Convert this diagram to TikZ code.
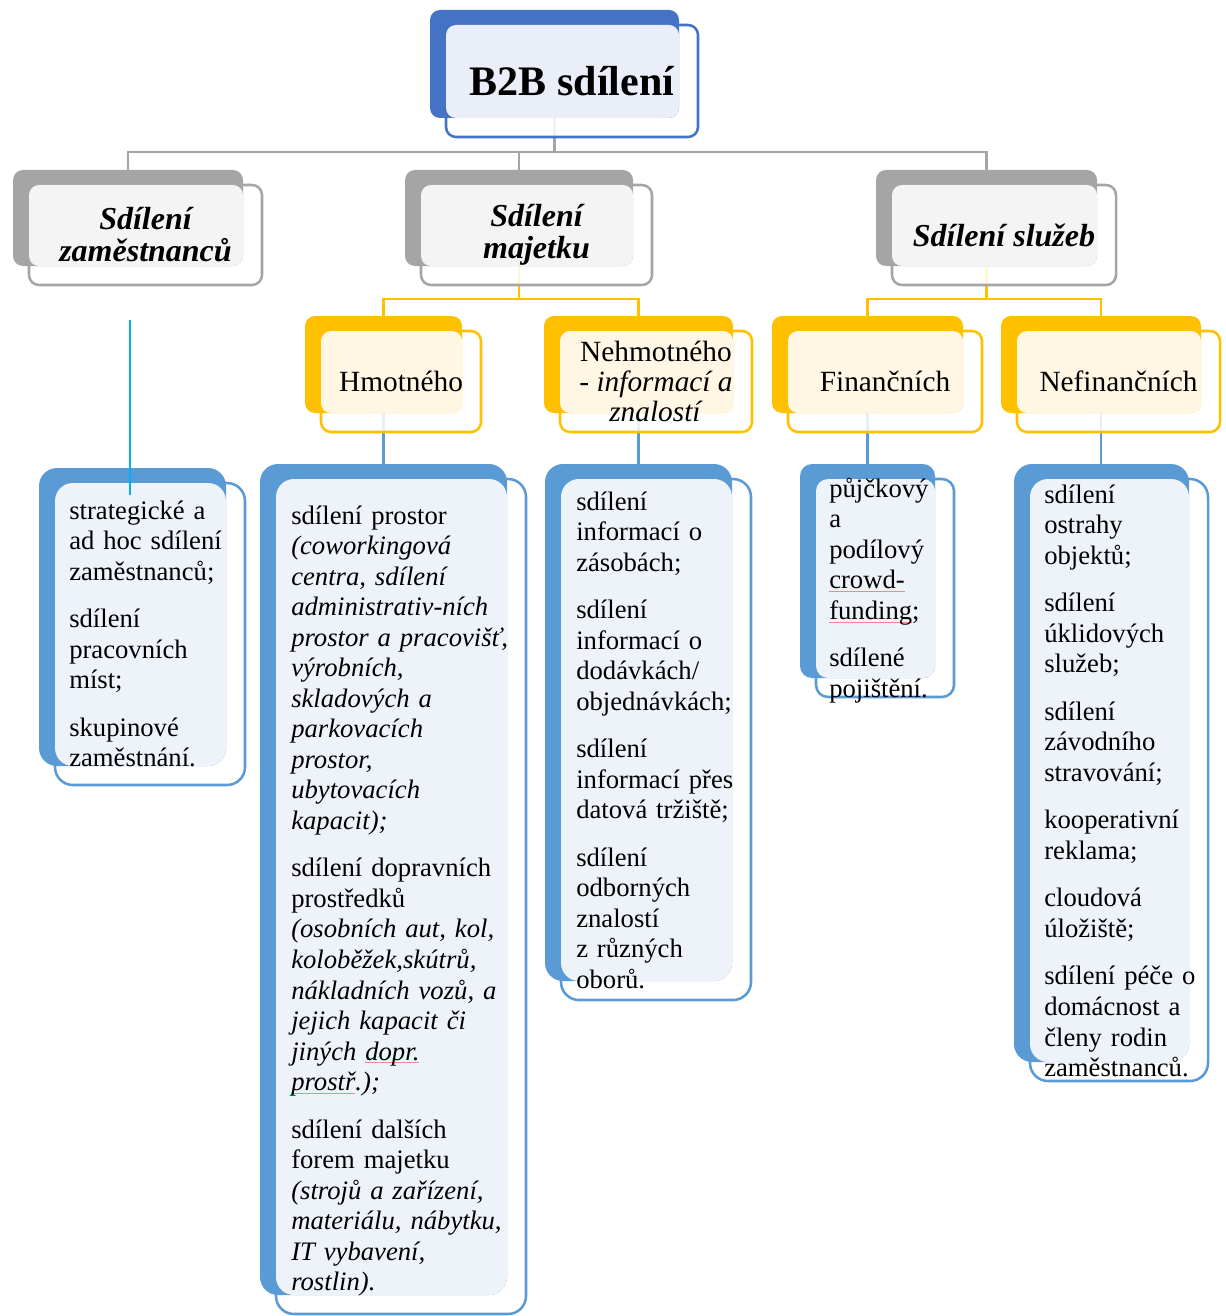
\documentclass[tikz,border=0pt]{standalone}
\usepackage{fontspec}
\setmainfont{Liberation Serif}
\usetikzlibrary{calc}
\definecolor{tblue}{HTML}{4472C4}
\definecolor{tbluelt}{HTML}{E9EEF8}
\definecolor{gback}{HTML}{A5A5A5}
\definecolor{glt}{HTML}{F4F4F4}
\definecolor{yback}{HTML}{FFC000}
\definecolor{ylt}{HTML}{FFF7E3}
\definecolor{lblue}{HTML}{5B9BD5}
\definecolor{lbluelt}{HTML}{EEF3FA}
\definecolor{cyanl}{HTML}{00B0F0}
\definecolor{spellred}{HTML}{F08A8A}
\pgfdeclarelayer{conn}
\pgfdeclarelayer{fr}
\pgfdeclarelayer{bk}
\pgfdeclarelayer{lt}
\pgfsetlayers{conn,fr,bk,lt,main}
\newlength\splw
\newcommand\spl[1]{\leavevmode\settowidth\splw{#1}\rlap{\textcolor{spellred}{\rule[-2.4pt]{\splw}{0.6pt}}}#1}
\newcommand\lgap{12.75pt}
% #1 node name, #2 dark colour, #3 light colour, #4 corner radius
\newcommand\card[4]{%
  \begin{pgfonlayer}{fr}
    \draw[#2, line width=1.9pt, fill=white, fill opacity=0.85, rounded corners=#4]
      (#1.north west) rectangle (#1.south east);
  \end{pgfonlayer}
  \begin{pgfonlayer}{bk}
    \fill[#2, rounded corners=#4] ($(#1.north west)+(-16,-15)$) coordinate (#1-bnw)
      rectangle ($(#1.south east)+(-19,-19)$) coordinate (#1-bse);
  \end{pgfonlayer}
  \begin{pgfonlayer}{lt}
    \fill[#3, rounded corners=#4] (#1.north west) rectangle (#1-bse);
  \end{pgfonlayer}
  \coordinate (#1-bc) at ($(#1-bnw)!0.5!(#1-bse)$);
}
\begin{document}
\begin{tikzpicture}[x=0.75pt,y=-0.75pt,
  frm/.style 2 args={shape=rectangle, minimum width=#1*0.75pt, minimum height=#2*0.75pt, inner sep=0pt, outer sep=0pt},
  lvla/.style={font=\fontsize{24}{24}\selectfont\bfseries\itshape, align=center},
  lvlb/.style={font=\fontsize{22}{22.5}\selectfont, align=center},
  lst/.style={font=\fontsize{20}{22.9}\selectfont, align=left, text width=225pt, inner sep=0pt, anchor=base west},
  gline/.style={draw=gback, line width=1.9pt},
  yline/.style={draw=yback, line width=1.9pt},
  bline/.style={draw=lblue, line width=1.9pt}]
\useasboundingbox (0,0) rectangle (1226,1316);

% ---- title
\node[frm={252}{112}, font=\fontsize{31.5}{34}\selectfont\bfseries] (b2b) at (572,81) {B2B sdílení};
\card{b2b}{tblue}{tbluelt}{7.5pt}

% ---- level 1
\node[frm={233}{100}, lvla] (zam) at (145.5,235) {Sdílení\\zaměstnanců};
\node[frm={231}{100}, lvla] (maj) at (536.5,235) {Sdílení\\majetku};
\node[frm={224}{100}, lvla] (slu) at (1004,235) {Sdílení služeb};
\card{zam}{gback}{glt}{7.5pt}
\card{maj}{gback}{glt}{7.5pt}
\card{slu}{gback}{glt}{7.5pt}

% ---- level 2
\node[frm={160}{101}, lvlb] (hmo) at (401,381.5) {Hmotného};
\node[frm={192}{101}, lvlb] (neh) at (656,381.5) {Nehmotného\\- \textit{informací a}\\\textit{znalostí}};
\node[frm={194}{101}, lvlb] (fin) at (885,381.5) {Finančních};
\node[frm={203}{101}, lvlb] (nef) at (1118.5,381.5) {Nefinančních};
\card{hmo}{yback}{ylt}{7.5pt}
\card{neh}{yback}{ylt}{7.5pt}
\card{fin}{yback}{ylt}{7.5pt}
\card{nef}{yback}{ylt}{7.5pt}

% ---- list frames
\node[frm={190}{302}] (la) at (150,634) {};
\node[frm={250}{835}] (lb) at (401,896.5) {};
\node[frm={190}{521}] (lc) at (656,739.5) {};
\node[frm={138}{218}] (ld) at (885,588) {};
\node[frm={178}{602}] (le) at (1119,780) {};
\card{la}{lblue}{lbluelt}{13.5pt}
\card{lb}{lblue}{lbluelt}{13.5pt}
\card{lc}{lblue}{lbluelt}{13.5pt}
\card{ld}{lblue}{lbluelt}{9pt}
\card{le}{lblue}{lbluelt}{13.5pt}

% ---- list texts
\node[lst] (ta) at (69,519) {strategické a\\ad hoc sdílení\\zaměstnanců;\\[\lgap]sdílení\\pracovních\\míst;\\[\lgap]skupinové\\zaměstnání.};
\node[lst] (tb) at (291,524) {sdílení prostor\\{\itshape (coworkingová\\centra, sdílení\\administrativ-ních\\prostor a pracovišť,\\výrobních,\\skladových a\\parkovacích\\prostor,\\ubytovacích\\kapacit);}\\[\lgap]sdílení dopravních\\prostředků\\{\itshape (osobních aut, kol,\\koloběžek,skútrů,\\nákladních vozů, a\\jejich kapacit či\\jiných \spl{dopr.}\\\spl{prostř}.);}\\[\lgap]sdílení dalších\\forem majetku\\{\itshape (strojů a zařízení,\\materiálu, nábytku,\\IT vybavení,\\rostlin).}};
\node[lst] (tc) at (576,510) {sdílení\\informací o\\zásobách;\\[\lgap]sdílení\\informací o\\dodávkách/\\objednávkách;\\[\lgap]sdílení\\informací přes\\datová tržiště;\\[\lgap]sdílení\\odborných\\znalostí\\z různých\\oborů.};
\node[lst] (td) at (829,497) {půjčkový\\a\\podílový\\\spl{crowd-}\\\spl{funding};\\[\lgap]sdílené\\pojištění.};
\node[lst] (te) at (1044,503) {sdílení\\ostrahy\\objektů;\\[\lgap]sdílení\\úklidových\\služeb;\\[\lgap]sdílení\\závodního\\stravování;\\[\lgap]kooperativní\\reklama;\\[\lgap]cloudová\\úložiště;\\[\lgap]sdílení péče o\\domácnost a\\členy rodin\\zaměstnanců.};

% ---- connectors
\coordinate (bus1) at (0,152);
\coordinate (bus2) at (0,299);
\begin{pgfonlayer}{conn}
  \draw[gline] (b2b-bc) -- (b2b-bc |- bus1);
  \draw[gline] (zam-bc) -- (zam-bc |- bus1) -- (slu-bc |- bus1) -- (slu-bc);
  \draw[gline] (maj-bc |- bus1) -- (maj-bc);
  \draw[yline] (maj-bc) -- (maj-bc |- bus2);
  \draw[yline] (hmo-bc) -- (hmo-bc |- bus2) -- (neh-bc |- bus2) -- (neh-bc);
  \draw[yline] (slu-bc) -- (slu-bc |- bus2);
  \draw[yline] (fin-bc) -- (fin-bc |- bus2) -- (nef-bc |- bus2) -- (nef-bc);
  \draw[bline] (hmo-bc) -- (hmo-bc |- lb-bc);
  \draw[bline] (neh-bc) -- (neh-bc |- lc-bc);
  \draw[bline] (fin-bc) -- (fin-bc |- ld-bc);
  \draw[bline] (nef-bc) -- (nef-bc |- le-bc);
\end{pgfonlayer}
\coordinate (cy1) at (130,320);
\coordinate (cy2) at (130,495);
\draw[cyanl, line width=1.9pt] (cy1) -- (cy2);
\end{tikzpicture}
\end{document}
